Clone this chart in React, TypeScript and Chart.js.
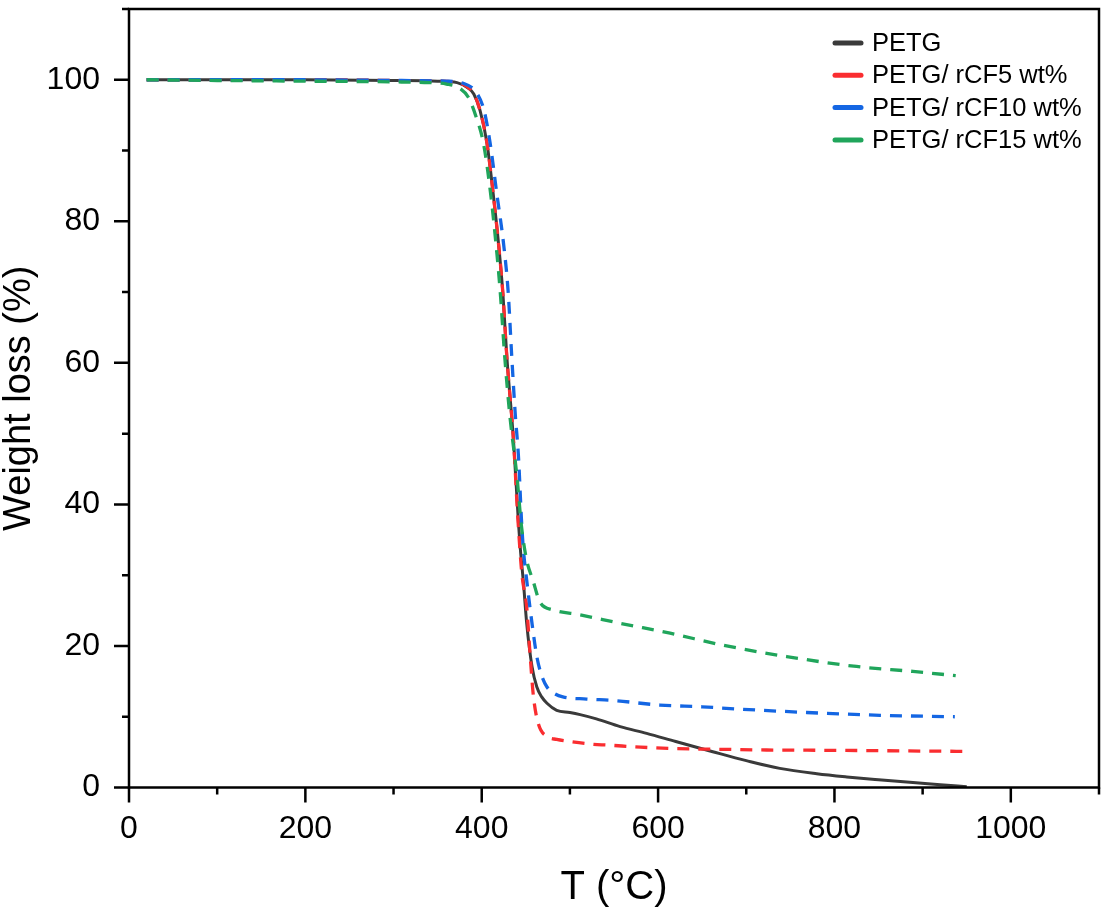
import React, { useEffect, useRef } from "react";
import { Chart, registerables } from "chart.js";

Chart.register(...registerables);

const seriesLabels = ["PETG", "PETG/ rCF5 wt%", "PETG/ rCF10 wt%", "PETG/ rCF15 wt%"];
const seriesColors = ["#3a3a3a", "#fa2d30", "#1466e3", "#20a55b"];

const petgT = [20, 100, 200, 300, 350, 372, 385, 391, 398, 406, 413, 419, 424, 428.5, 436, 441.7, 443.6, 447.4, 451, 457, 462.5, 468, 474, 485, 500, 511.6, 530, 557, 587, 620, 662, 700, 738, 780, 814, 850, 889, 920, 950];
const petgW = [100, 100, 100, 99.9, 99.8, 99.6, 98.8, 98, 95.7, 91, 83.9, 76.9, 69.8, 60.8, 49.1, 37.3, 34, 28.8, 23.2, 17.1, 14.2, 12.8, 11.9, 10.9, 10.6, 10.3, 9.7, 8.6, 7.65, 6.5, 5.06, 3.8, 2.7, 1.95, 1.5, 1.1, 0.7, 0.4, 0.1];

const rcf5T = [20, 100, 200, 300, 350, 372, 391, 398, 406, 413, 419, 424, 428.5, 436, 441, 445.5, 451, 455, 458.7, 464, 474, 485, 500, 527, 542, 580, 617, 670, 723, 800, 851, 900, 950];
const rcf5W = [100, 100, 100, 99.9, 99.8, 99.6, 98, 95.7, 91, 83.9, 76.9, 69.8, 60.8, 49.1, 38, 30.2, 25.5, 18.5, 12.8, 9.1, 7.2, 6.8, 6.5, 6.1, 6.0, 5.7, 5.5, 5.4, 5.3, 5.25, 5.2, 5.15, 5.1];

const rcf10T = [20, 100, 200, 300, 360, 379, 395, 403, 409.6, 417, 424.7, 430, 434, 438, 441.7, 445, 447, 451, 457, 462.5, 468, 474, 482, 492, 519, 549, 602, 650, 689, 768.5, 851.6, 936.5];
const rcf10W = [100, 100, 100, 99.9, 99.8, 99.5, 98, 95.5, 91, 84, 76.9, 70, 61, 52.8, 46.7, 38, 34, 29.3, 23.2, 18.5, 15.8, 14.2, 13.3, 12.8, 12.5, 12.3, 11.65, 11.4, 11.1, 10.6, 10.2, 10.0];

const rcf15T = [20, 100, 200, 300, 340, 360, 375, 385, 393, 402, 410, 416, 421, 426, 432, 440, 445, 451, 458, 466, 481, 511.6, 557, 613.6, 674, 745.8, 825, 889, 937.5];
const rcf15W = [100, 99.9, 99.8, 99.7, 99.6, 99.4, 98.8, 97.5, 95, 91, 84, 77, 70, 61, 52.4, 43.9, 37, 32.1, 29.3, 26.2, 25.1, 24.4, 23.2, 21.8, 20.1, 18.5, 17.1, 16.4, 15.8];

const xMajorTicks = [0, 200, 400, 600, 800, 1000];
const xMinorTicks = [100, 300, 500, 700, 900, 1100];
const yMajorTicks = [0, 20, 40, 60, 80, 100];
const yMinorTicks = [10, 30, 50, 70, 90, 110];

const xTitle = "T (°C)";
const yTitle = "Weight loss (%)";

const FONT = "'Liberation Sans', Arial, sans-serif";

const seriesT = [petgT, rcf5T, rcf10T, rcf15T];
const seriesW = [petgW, rcf5W, rcf10W, rcf15W];

const framePlugin = {
  id: "frame",
  afterDraw(chart: any) {
    const { ctx, chartArea, scales } = chart;
    const { left, right, top, bottom } = chartArea;
    const x = scales.x;
    const y = scales.y;
    ctx.save();
    ctx.strokeStyle = "#000";
    ctx.lineWidth = 2.5;
    ctx.lineCap = "butt";
    ctx.strokeRect(left, top, right - left, bottom - top);
    ctx.beginPath();
    xMajorTicks.forEach((v) => {
      const px = x.getPixelForValue(v);
      ctx.moveTo(px, bottom);
      ctx.lineTo(px, bottom + 15);
    });
    xMinorTicks.forEach((v) => {
      const px = x.getPixelForValue(v);
      ctx.moveTo(px, bottom);
      ctx.lineTo(px, bottom + 7);
    });
    yMajorTicks.forEach((v) => {
      const py = y.getPixelForValue(v);
      ctx.moveTo(left, py);
      ctx.lineTo(left - 15, py);
    });
    yMinorTicks.forEach((v) => {
      const py = y.getPixelForValue(v);
      ctx.moveTo(left, py);
      ctx.lineTo(left - 7, py);
    });
    ctx.stroke();

    // legend
    const lx0 = right - 266;
    const lx1 = lx0 + 30;
    const ty = top + 34;
    ctx.font = `25.5px ${FONT}`;
    ctx.textBaseline = "middle";
    ctx.textAlign = "left";
    seriesLabels.forEach((lab, i) => {
      const yy = ty + i * 32.3;
      ctx.strokeStyle = seriesColors[i];
      ctx.lineWidth = 5;
      ctx.lineCap = "round";
      ctx.beginPath();
      ctx.moveTo(lx0 + 2, yy);
      ctx.lineTo(lx1 - 2, yy);
      ctx.stroke();
      ctx.fillStyle = "#000";
      ctx.fillText(lab, lx1 + 9, yy + 1);
    });
    ctx.restore();
  },
};

export default function App() {
  const ref = useRef<HTMLCanvasElement | null>(null);
  useEffect(() => {
    if (!ref.current) return;
    const datasets = seriesLabels.map((label, i) => ({
      label,
      data: seriesT[i].map((t, j) => ({ x: t, y: seriesW[i][j] })),
      borderColor: seriesColors[i],
      backgroundColor: seriesColors[i],
      borderWidth: i === 0 ? 3 : 3.3,
      borderDash: i === 0 ? [] : [12, 9],
      pointRadius: 0,
      cubicInterpolationMode: "monotone" as const,
      fill: false,
      order: 4 - i,
    }));
    const chart = new Chart(ref.current, {
      type: "line",
      data: { datasets },
      options: {
        animation: false,
        responsive: false,
        devicePixelRatio: 1,
        layout: { padding: { top: 9, right: 3, left: 0, bottom: 0 } },
        plugins: { legend: { display: false }, tooltip: { enabled: false } },
        scales: {
          x: {
            type: "linear",
            min: 0,
            max: 1100,
            grid: { display: false, drawTicks: false },
            border: { display: false },
            afterBuildTicks: (s: any) => {
              s.ticks = xMajorTicks.map((v) => ({ value: v }));
            },
            ticks: {
              autoSkip: false,
              maxRotation: 0,
              padding: 22,
              color: "#000",
              font: { family: FONT, size: 32 },
              callback: (v: any) => String(v),
            },
            title: {
              display: true,
              text: xTitle,
              color: "#000",
              font: { family: FONT, size: 40, lineHeight: 1 },
              padding: { top: 0, bottom: 9 },
            },
            afterFit: (s: any) => {
              s.height = 129.5;
              s.paddingLeft = 0;
              s.paddingRight = 0;
              s.paddingTop = 0;
              s.paddingBottom = 0;
            },
          },
          y: {
            type: "linear",
            min: 0,
            max: 110,
            grid: { display: false, drawTicks: false },
            border: { display: false },
            afterBuildTicks: (s: any) => {
              s.ticks = yMajorTicks.map((v) => ({ value: v }));
            },
            ticks: {
              autoSkip: false,
              padding: 29,
              color: "#000",
              font: { family: FONT, size: 32 },
              callback: (v: any) => String(v),
            },
            title: {
              display: true,
              text: yTitle,
              color: "#000",
              font: { family: FONT, size: 38, lineHeight: 1 },
              padding: { top: 1, bottom: 0 },
            },
            afterFit: (s: any) => {
              s.width = 129;
              s.paddingLeft = 0;
              s.paddingRight = 0;
              s.paddingTop = 0;
              s.paddingBottom = 0;
            },
          },
        },
      },
      plugins: [framePlugin],
    });
    return () => chart.destroy();
  }, []);
  return (
    <div style={{ position: "fixed", left: 0, top: 0, width: 1102, height: 917, background: "#fff" }}>
      <canvas ref={ref} width={1102} height={917} style={{ width: 1102, height: 917, display: "block" }} />
    </div>
  );
}
